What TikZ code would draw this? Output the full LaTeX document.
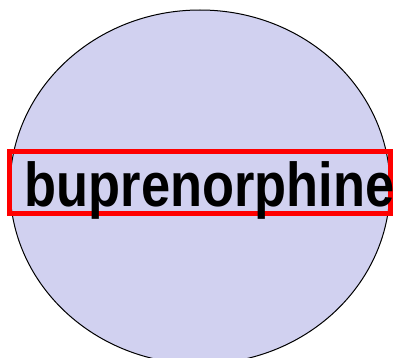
\documentclass[tikz,border=0pt]{standalone}
\usepackage{fontspec}
\setmainfont{Liberation Sans}
\usepackage{tikz}
\usetikzlibrary{shapes.geometric, positioning}
\definecolor{lavfill}{RGB}{209,209,240}
\tikzset{
  drugell/.style={
    ellipse, draw=black, fill=lavfill, line width=1pt,
    inner sep=0pt, minimum width=380pt, minimum height=354pt
  },
  hibox/.style={
    rectangle, draw=red, line width=4.5pt, inner sep=0pt,
    minimum width=381pt, minimum height=62pt
  }
}

\begin{document}
\begin{tikzpicture}[
    x=1pt, y=-1pt,
    druglbl/.style={anchor=base, inner sep=0pt, xscale=0.845,
                    font=\fontsize{62}{62}\selectfont\bfseries}
  ]
  \useasboundingbox (0,0) rectangle (393,358);
  \node[drugell] (drug) at (200,187) {};
  \node[hibox]   (box)  at (200,182.5) {};
  \node[druglbl] (name) at (209.5,206.7) {buprenorphine};
\end{tikzpicture}
\end{document}
